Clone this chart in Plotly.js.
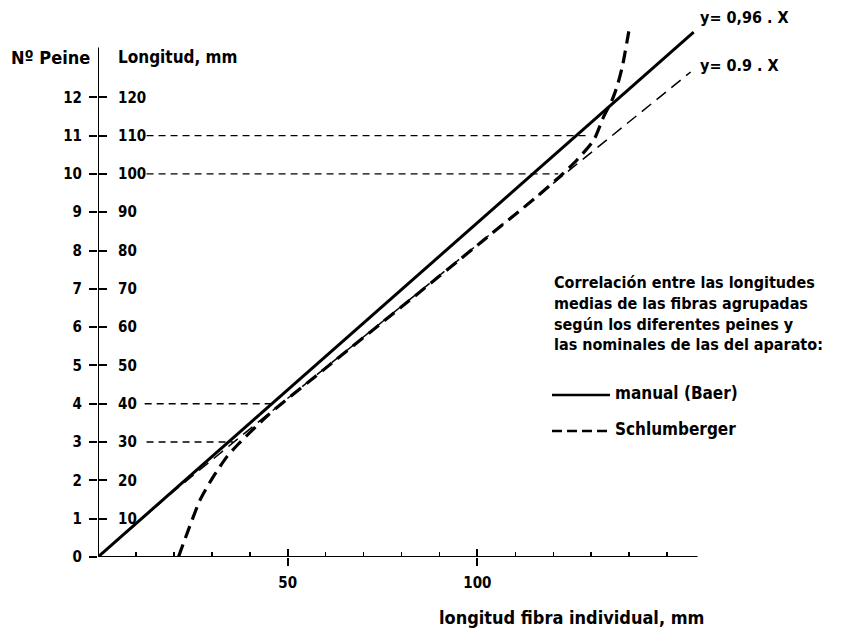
<!DOCTYPE html>
<html><head><meta charset="utf-8">
<script src="https://cdn.plot.ly/plotly-3.0.1.min.js"></script>
<style>html,body{margin:0;padding:0;background:#fff}#chart{width:858px;height:637px}</style>
</head><body><div id="chart"></div>
<script>
// ---- data ----
// manual (Baer) line, y = 0,96 . X
const baerX = [0, 157];
const baerY = [0, 137];
// y = 0.9 . X reference line
const refX = [0, 20, 40, 123, 156.2];
const refY = [0, 17.2, 33.4, 100, 126.6];
// Schlumberger curve
const schX = [21.2, 23.8, 26.9, 30.4, 34.0, 37.0, 45, 60, 80, 100, 115, 122.7, 126.3, 130.7, 133.3, 135.5, 136.8, 138.2, 139.9];
const schY = [0, 7, 14.9, 21, 26.2, 29.5, 37.2, 49.3, 65.3, 81.4, 93.5, 100.2, 103.7, 108.9, 115, 119.3, 122.8, 128, 137.2];
// horizontal guide lines (Longitud levels)
const guideLevels = [30, 40, 100, 110];
const guideStart = [12.8, 12.3, 12.8, 12.8];
const guideEnd = [35.6, 45.9, 121.3, 129.3];
// axis ticks
const peineVals = [0, 10, 20, 30, 40, 50, 60, 70, 80, 90, 100, 110, 120];
const peineText = ['0', '1', '2', '3', '4', '5', '6', '7', '8', '9', '10', '11', '12'];
const longVals = [10, 20, 30, 40, 50, 60, 70, 80, 90, 100, 110, 120];
const longText = ['10', '20', '30', '40', '50', '60', '70', '80', '90', '100', '110', '120'];
const xMajorVals = [50, 100];
const xMajorText = ['50', '100'];
const xMinorVals = [10, 20, 30, 40, 60, 70, 80, 90, 110, 120, 130, 140, 150];
const xAxisEnd = 158;
const yAxisEnd = 133;
const noteLines = ['Correlación entre las longitudes', 'medias de las fibras agrupadas',
                   'según los diferentes peines y', 'las nominales de las del aparato:'];

// ---- layout geometry ----
const L = 98, R = 115, T = 13, B = 80, FW = 858, FH = 637;
const W = FW - L - R, H = FH - T - B;
const px = x => (x - L) / W;
const py = y => (FH - B - y) / H;
const FONT = 'DejaVu Sans Condensed, DejaVu Sans, sans-serif';
const ink = '#000';

const gx = [], gy = [];
guideLevels.forEach((lv, i) => { gx.push(guideStart[i], guideEnd[i], null); gy.push(lv, lv, null); });

const traces = [
  {x: gx, y: gy, mode: 'lines', line: {color: ink, width: 1.4, dash: '7px,5px'}, showlegend: false, hoverinfo: 'skip', connectgaps: false},
  {x: refX, y: refY, mode: 'lines', line: {color: ink, width: 1.5, dash: '12px,7px'}, showlegend: false, hoverinfo: 'skip'},
  {x: baerX, y: baerY, mode: 'lines', name: 'manual (Baer)', line: {color: ink, width: 3}, showlegend: false},
  {x: schX, y: schY, mode: 'lines', name: 'Schlumberger', line: {color: ink, width: 3.2, dash: '13px,7px', shape: 'spline', smoothing: 0.6}, showlegend: false},
  {x: [0], y: [0], xaxis: 'x2', yaxis: 'y2', mode: 'markers', marker: {opacity: 0}, showlegend: false, hoverinfo: 'skip'}
];

const tickFont = {family: FONT, size: 15, color: ink, weight: 'bold'};

function ann(text, x, y, anchor, size) {
  return {text: text, xref: 'paper', yref: 'paper', x: px(x), y: py(y), xanchor: anchor, yanchor: 'middle',
          align: 'left', showarrow: false, font: {family: FONT, size: size, color: ink, weight: 'bold'}};
}

const annotations = [
  ann('Nº Peine', 92, 57, 'right', 18),
  ann('Longitud, mm', 116, 57, 'left', 17),
  ann('y= 0,96 . X', 698, 18, 'left', 16),
  ann('y= 0.9 . X', 698, 65, 'left', 16),
  ann(noteLines.join('<br>'), 552, 314, 'left', 16),
  ann('manual (Baer)', 613, 393, 'left', 17),
  ann('Schlumberger', 613, 429, 'left', 17),
  ann('longitud fibra individual, mm', 437, 617, 'left', 18)
];

const shapes = [
  {type: 'line', xref: 'x', yref: 'y', x0: 0, y0: 0, x1: xAxisEnd, y1: 0, line: {color: ink, width: 2}},
  {type: 'line', xref: 'x', yref: 'y', x0: 0, y0: 0, x1: 0, y1: yAxisEnd, line: {color: ink, width: 2}},
  {type: 'line', xref: 'paper', yref: 'paper', x0: px(552), y0: py(395), x1: px(610), y1: py(395), line: {color: ink, width: 2.5}},
  {type: 'line', xref: 'paper', yref: 'paper', x0: px(552), y0: py(431), x1: px(610), y1: py(431), line: {color: ink, width: 2.5, dash: '10px,5px'}}
];

const layout = {
  width: FW, height: FH,
  margin: {l: L, r: R, t: T, b: B, pad: 0},
  paper_bgcolor: '#fff', plot_bgcolor: '#fff',
  showlegend: false,
  xaxis: {range: [0, 170], autorange: false, showgrid: false, zeroline: false, showline: false,
          tickmode: 'array', tickvals: xMajorVals, ticktext: xMajorText, ticks: 'outside', ticklen: 8, tickwidth: 2,
          tickcolor: ink, tickfont: tickFont, ticklabelstandoff: 4},
  xaxis2: {range: [0, 170], autorange: false, overlaying: 'x', anchor: 'free', position: 0, side: 'top',
           showgrid: false, zeroline: false, showline: false, showticklabels: false,
           tickmode: 'array', tickvals: xMajorVals, ticks: 'outside', ticklen: 8, tickwidth: 2, tickcolor: ink,
           minor: {tickvals: xMinorVals, ticks: 'outside', ticklen: 5, tickwidth: 1.5, tickcolor: ink}},
  yaxis: {range: [0, 142], autorange: false, showgrid: false, zeroline: false, showline: false,
          tickmode: 'array', tickvals: peineVals, ticktext: peineText, ticks: 'outside', ticklen: 8, tickwidth: 2,
          tickcolor: ink, tickfont: tickFont, ticklabelstandoff: 4},
  yaxis2: {range: [0, 142], autorange: false, overlaying: 'y', anchor: 'free', position: 0, side: 'right',
           showgrid: false, zeroline: false, showline: false,
           tickmode: 'array', tickvals: longVals, ticktext: longText, ticks: 'outside', ticklen: 8, tickwidth: 2,
           tickcolor: ink, tickfont: tickFont, ticklabelstandoff: 8},
  annotations: annotations,
  shapes: shapes
};

Plotly.newPlot('chart', traces, layout, {staticPlot: true, displayModeBar: false});
</script>
</body></html>
